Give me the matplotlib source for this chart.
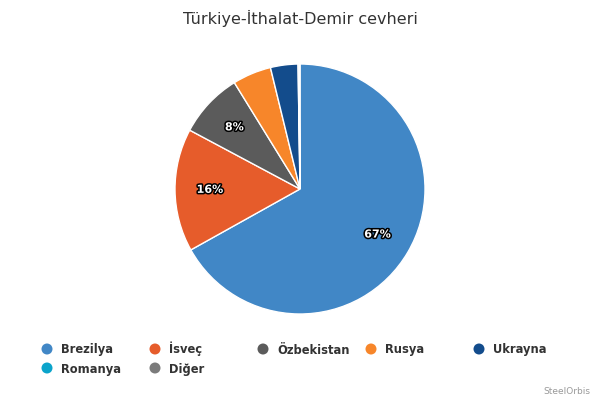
import matplotlib
matplotlib.use("Agg")
import matplotlib.pyplot as plt
import matplotlib.patheffects as pe
import math

categories = ["Brezilya", "İsveç", "Özbekistan", "Rusya", "Ukrayna", "Romanya", "Diğer"]
values = [66.9, 15.9, 8.4, 5.0, 3.55, 0.1, 0.15]
colors = ["#4187c6", "#e65c2b", "#5b5b5b", "#f7862a", "#134c8c", "#0ba4cb", "#7b7b7b"]
title = "Türkiye-İthalat-Demir cevheri"
credit = "SteelOrbis"

W, H = 600, 400
fig = plt.figure(figsize=(W / 100, H / 100), dpi=100)
fig.patch.set_facecolor("white")

cx, cy, R = 300, 189, 125
ax = fig.add_axes([(cx - R) / W, (H - cy - R) / H, 2 * R / W, 2 * R / H])

total = sum(values)
wedges, _ = ax.pie(values, colors=colors, startangle=90, counterclock=False,
                   radius=1, wedgeprops=dict(edgecolor="white", linewidth=1))
ax.set_xlim(-1, 1)
ax.set_ylim(-1, 1)
ax.set_aspect("equal")
ax.axis("off")

ang = 90.0
for v in values:
    span = v / total * 360
    mid = ang - span / 2
    ang -= span
    pct = v / total * 100
    if pct >= 7:
        r = 0.72
        x = r * math.cos(math.radians(mid))
        y = r * math.sin(math.radians(mid))
        t = ax.text(x, y, f"{pct:.0f}%", ha="center", va="center", color="white",
                    fontsize=8, fontweight="bold")
        t.set_path_effects([pe.withStroke(linewidth=2.2, foreground="black")])

fig.text(0.5, 1 - 18 / H, title, ha="center", va="center", fontsize=11.5, color="#333333")

# legend
col_x = [47, 155, 263, 371, 479]
row_y = [349, 368]
for i, (name, c) in enumerate(zip(categories, colors)):
    row, col = divmod(i, 5)
    x = col_x[col]
    y = row_y[row]
    fig.patches.append(matplotlib.patches.Ellipse((x / W, 1 - y / H), 11 / W, 11 / H,
                                                  transform=fig.transFigure, facecolor=c,
                                                  edgecolor="none"))
    fig.text((x + 14) / W, 1 - (y + 4.5) / H, name, ha="left", va="baseline", fontsize=8.3,
             fontweight="bold", color="#333333")

fig.text(590 / W, 1 - 392 / H, credit, ha="right", va="center", fontsize=6.5, color="#999999")

fig.savefig("out.png", dpi=100, facecolor="white")
